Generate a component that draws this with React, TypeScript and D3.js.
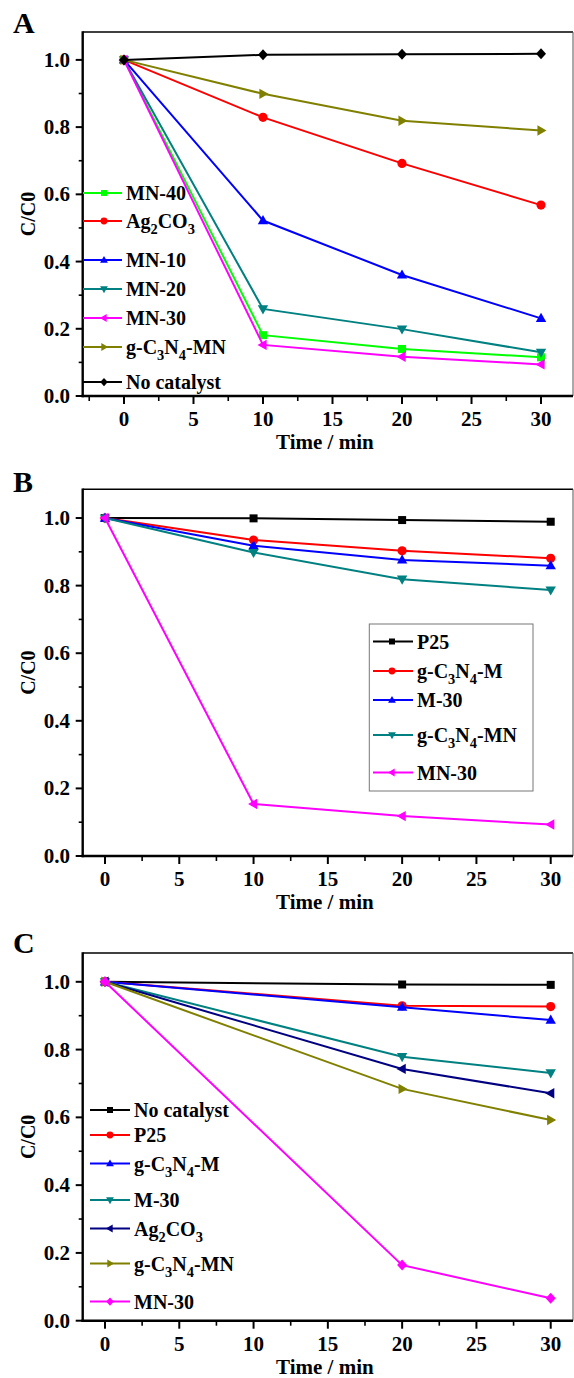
import React from 'react';
import * as d3 from 'd3';

// ---------- DATA ----------
const timeAB = [0, 10, 20, 30];
const timeC = [0, 20, 30];

// Panel A
const aMN40 = [1.0, 0.181, 0.14, 0.115];
const aAg2CO3 = [1.0, 0.829, 0.692, 0.568];
const aMN10 = [1.0, 0.522, 0.36, 0.231];
const aMN20 = [1.0, 0.259, 0.199, 0.13];
const aMN30 = [1.0, 0.152, 0.117, 0.094];
const aGC3N4MN = [1.0, 0.899, 0.819, 0.79];
const aNoCat = [1.0, 1.015, 1.017, 1.018];

// Panel B
const bP25 = [1.0, 0.999, 0.994, 0.989];
const bGC3N4M = [1.0, 0.935, 0.903, 0.881];
const bM30 = [1.0, 0.918, 0.876, 0.859];
const bGC3N4MN = [1.0, 0.898, 0.819, 0.787];
const bMN30 = [1.0, 0.154, 0.118, 0.093];

// Panel C
const cNoCat = [1.0, 0.992, 0.991];
const cP25 = [1.0, 0.929, 0.927];
const cGC3N4M = [1.0, 0.925, 0.887];
const cM30 = [1.0, 0.779, 0.731];
const cAg2CO3 = [1.0, 0.743, 0.671];
const cGC3N4MN = [1.0, 0.684, 0.592];
const cMN30 = [1.0, 0.164, 0.066];

const yTicks = [0, 0.2, 0.4, 0.6, 0.8, 1.0];
const yMinor = [0.1, 0.3, 0.5, 0.7, 0.9];
const xTicks = [0, 5, 10, 15, 20, 25, 30];
const xMinorA = [-2.5, 2.5, 7.5, 12.5, 17.5, 22.5, 27.5];
const xMinorBC = [2.5, 7.5, 12.5, 17.5, 22.5, 27.5];

// ---------- STYLE ----------
const COLORS = {
  black: '#000000', red: '#ff0000', blue: '#0000ff', teal: '#008080',
  magenta: '#ff00ff', olive: '#808000', green: '#00ff00', navy: '#000080',
};
const FONT = "'Liberation Serif', 'Times New Roman', Times, serif";

type Series = { label: string; color: string; shape: string; values: number[] };

const seriesA: Series[] = [
  { label: 'MN-40', color: COLORS.green, shape: 'square', values: aMN40 },
  { label: 'Ag_2CO_3', color: COLORS.red, shape: 'circle', values: aAg2CO3 },
  { label: 'MN-10', color: COLORS.blue, shape: 'up', values: aMN10 },
  { label: 'MN-20', color: COLORS.teal, shape: 'down', values: aMN20 },
  { label: 'MN-30', color: COLORS.magenta, shape: 'left', values: aMN30 },
  { label: 'g-C_3N_4-MN', color: COLORS.olive, shape: 'right', values: aGC3N4MN },
  { label: 'No catalyst', color: COLORS.black, shape: 'diamond', values: aNoCat },
];
const seriesB: Series[] = [
  { label: 'P25', color: COLORS.black, shape: 'square', values: bP25 },
  { label: 'g-C_3N_4-M', color: COLORS.red, shape: 'circle', values: bGC3N4M },
  { label: 'M-30', color: COLORS.blue, shape: 'up', values: bM30 },
  { label: 'g-C_3N_4-MN', color: COLORS.teal, shape: 'down', values: bGC3N4MN },
  { label: 'MN-30', color: COLORS.magenta, shape: 'left', values: bMN30 },
];
const seriesC: Series[] = [
  { label: 'No catalyst', color: COLORS.black, shape: 'square', values: cNoCat },
  { label: 'P25', color: COLORS.red, shape: 'circle', values: cP25 },
  { label: 'g-C_3N_4-M', color: COLORS.blue, shape: 'up', values: cGC3N4M },
  { label: 'M-30', color: COLORS.teal, shape: 'down', values: cM30 },
  { label: 'Ag_2CO_3', color: COLORS.navy, shape: 'left', values: cAg2CO3 },
  { label: 'g-C_3N_4-MN', color: COLORS.olive, shape: 'right', values: cGC3N4MN },
  { label: 'MN-30', color: COLORS.magenta, shape: 'diamond', values: cMN30 },
];

// ---------- LAYOUT ----------
const LEFT = 82.7;
const RIGHT = 573;

type Panel = {
  letter: string; letterY: number; top: number; bottom: number;
  xDomain: [number, number]; yMax: number; times: number[]; series: Series[];
  xMinor: number[];
  legend: { x0: number; x1: number; xm: number; xt: number; ys: number[]; box?: [number, number, number, number] };
};

const panels: Panel[] = [
  {
    letter: 'A', letterY: 33.3, top: 32, bottom: 396, xDomain: [-2.97, 32.3], yMax: 1.083,
    times: timeAB, series: seriesA, xMinor: xMinorA,
    legend: { x0: 83, x1: 122, xm: 104, xt: 126, ys: [193, 221, 260, 289, 318, 347, 382] },
  },
  {
    letter: 'B', letterY: 492, top: 489.3, bottom: 856, xDomain: [-1.5, 31.5], yMax: 1.085,
    times: timeAB, series: seriesB, xMinor: xMinorBC,
    legend: { x0: 373, x1: 413, xm: 392, xt: 417, ys: [641.5, 671, 700, 735, 772.5], box: [369.3, 624, 533, 791] },
  },
  {
    letter: 'C', letterY: 953, top: 953, bottom: 1320.7, xDomain: [-1.5, 31.5], yMax: 1.085,
    times: timeC, series: seriesC, xMinor: xMinorBC,
    legend: { x0: 90, x1: 130, xm: 110, xt: 134, ys: [1110, 1135, 1163.5, 1200, 1228.5, 1263.5, 1301.5] },
  },
];

function markerPath(shape: string, s: number): string {
  const pts = (arr: number[][]) => 'M' + arr.map(p => `${p[0] * s},${p[1] * s}`).join('L') + 'Z';
  switch (shape) {
    case 'square': return pts([[-4, -4], [4, -4], [4, 4], [-4, 4]]);
    case 'circle': {
      const r = 4.6 * s;
      return `M${-r},0A${r},${r} 0 1,0 ${r},0A${r},${r} 0 1,0 ${-r},0Z`;
    }
    case 'up': return pts([[0, -5.5], [5.2, 3.6], [-5.2, 3.6]]);
    case 'down': return pts([[0, 5.5], [5.2, -3.6], [-5.2, -3.6]]);
    case 'left': return pts([[-5.5, 0], [3.6, -5.2], [3.6, 5.2]]);
    case 'right': return pts([[5.5, 0], [-3.6, -5.2], [-3.6, 5.2]]);
    case 'diamond': return pts([[0, -5.5], [5, 0], [0, 5.5], [-5, 0]]);
    default: return '';
  }
}

const textStyle = { fontFamily: FONT, fontWeight: 700 as const };

function RichLabel({ text, x, y, size }: { text: string; x: number; y: number; size: number }) {
  const parts: { t: string; sub: boolean }[] = [];
  let buf = '';
  for (let i = 0; i < text.length; i++) {
    if (text[i] === '_') {
      if (buf) parts.push({ t: buf, sub: false });
      buf = '';
      parts.push({ t: text[i + 1], sub: true });
      i++;
    } else buf += text[i];
  }
  if (buf) parts.push({ t: buf, sub: false });
  let prevSub = false;
  return (
    <text x={x} y={y} style={{ ...textStyle, fontSize: size }} fill="#000">
      {parts.map((p, i) => {
        let dy = 0;
        if (p.sub && !prevSub) dy = 6;
        if (!p.sub && prevSub) dy = -6;
        prevSub = p.sub;
        return (
          <tspan key={i} dy={dy} style={{ fontSize: p.sub ? size * 0.72 : size }}>{p.t}</tspan>
        );
      })}
    </text>
  );
}

function PanelView({ p }: { p: Panel }) {
  const x = d3.scaleLinear().domain(p.xDomain).range([LEFT, RIGHT]);
  const y = d3.scaleLinear().domain([0, p.yMax]).range([p.bottom, p.top]);
  const line = d3.line<[number, number]>().x(d => x(d[0])).y(d => y(d[1]));
  const fmt = d3.format('.1f');
  const midY = (p.top + p.bottom) / 2;
  const midX = (LEFT + RIGHT) / 2 - 3;
  return (
    <g>
      <text x={13} y={p.letterY} style={{ ...textStyle, fontSize: 30 }}>{p.letter}</text>
      <line x1={LEFT} x2={RIGHT} y1={p.top} y2={p.top} stroke="#000" strokeWidth={1.6} />
      <line x1={RIGHT} x2={RIGHT} y1={p.top} y2={p.bottom} stroke="#555" strokeWidth={1} />
      {yTicks.map(t => (
        <g key={'y' + t}>
          <line x1={LEFT - 7} x2={LEFT} y1={y(t)} y2={y(t)} stroke="#000" strokeWidth={2} />
          <text x={70} y={y(t) + 7} textAnchor="end" style={{ ...textStyle, fontSize: 21 }}>{fmt(t)}</text>
        </g>
      ))}
      {yMinor.map(t => (
        <line key={'ym' + t} x1={LEFT - 4} x2={LEFT} y1={y(t)} y2={y(t)} stroke="#000" strokeWidth={1.6} />
      ))}
      {xTicks.map(t => (
        <g key={'x' + t}>
          <line x1={x(t)} x2={x(t)} y1={p.bottom} y2={p.bottom + 8} stroke="#000" strokeWidth={2} />
          <text x={x(t)} y={p.bottom + 30} textAnchor="middle" style={{ ...textStyle, fontSize: 21 }}>{t}</text>
        </g>
      ))}
      {p.xMinor.map(t => (
        <line key={'xm' + t} x1={x(t)} x2={x(t)} y1={p.bottom} y2={p.bottom + 5} stroke="#000" strokeWidth={1.6} />
      ))}
      <line x1={LEFT} x2={LEFT} y1={p.top - 0.8} y2={p.bottom + 1.2} stroke="#000" strokeWidth={2.4} />
      <line x1={LEFT - 1.2} x2={RIGHT} y1={p.bottom} y2={p.bottom} stroke="#000" strokeWidth={2.4} />
      <text x={midX} y={p.bottom + 53} textAnchor="middle" style={{ ...textStyle, fontSize: 21 }}>Time / min</text>
      <text transform={`translate(35,${midY}) rotate(-90)`} textAnchor="middle" style={{ ...textStyle, fontSize: 20 }}>C/C0</text>
      {p.series.map(s => {
        const pts: [number, number][] = p.times.map((t, i) => [t, s.values[i]]);
        return (
          <g key={s.label}>
            <path d={line(pts) || ''} fill="none" stroke={s.color} strokeWidth={2} />
            {pts.map((d, i) => (
              <path key={i} d={markerPath(s.shape, 1)} transform={`translate(${x(d[0])},${y(d[1])})`} fill={s.color} />
            ))}
          </g>
        );
      })}
      {p.legend.box && (
        <rect x={p.legend.box[0]} y={p.legend.box[1]} width={p.legend.box[2] - p.legend.box[0]}
          height={p.legend.box[3] - p.legend.box[1]} fill="#fff" stroke="#777" strokeWidth={1} />
      )}
      {p.series.map((s, i) => {
        const ly = p.legend.ys[i];
        return (
          <g key={'lg' + s.label}>
            <line x1={p.legend.x0} x2={p.legend.x1} y1={ly} y2={ly} stroke={s.color} strokeWidth={2} />
            <path d={markerPath(s.shape, 0.75)} transform={`translate(${p.legend.xm},${ly})`} fill={s.color} />
            <RichLabel text={s.label} x={p.legend.xt} y={ly + 7} size={20} />
          </g>
        );
      })}
    </g>
  );
}

export default function App() {
  return (
    <svg width={574} height={1378} style={{ position: 'absolute', left: 0, top: 0, background: '#fff' }}>
      <rect x={0} y={0} width={574} height={1378} fill="#fff" />
      {panels.map(p => <PanelView key={p.letter} p={p} />)}
    </svg>
  );
}
